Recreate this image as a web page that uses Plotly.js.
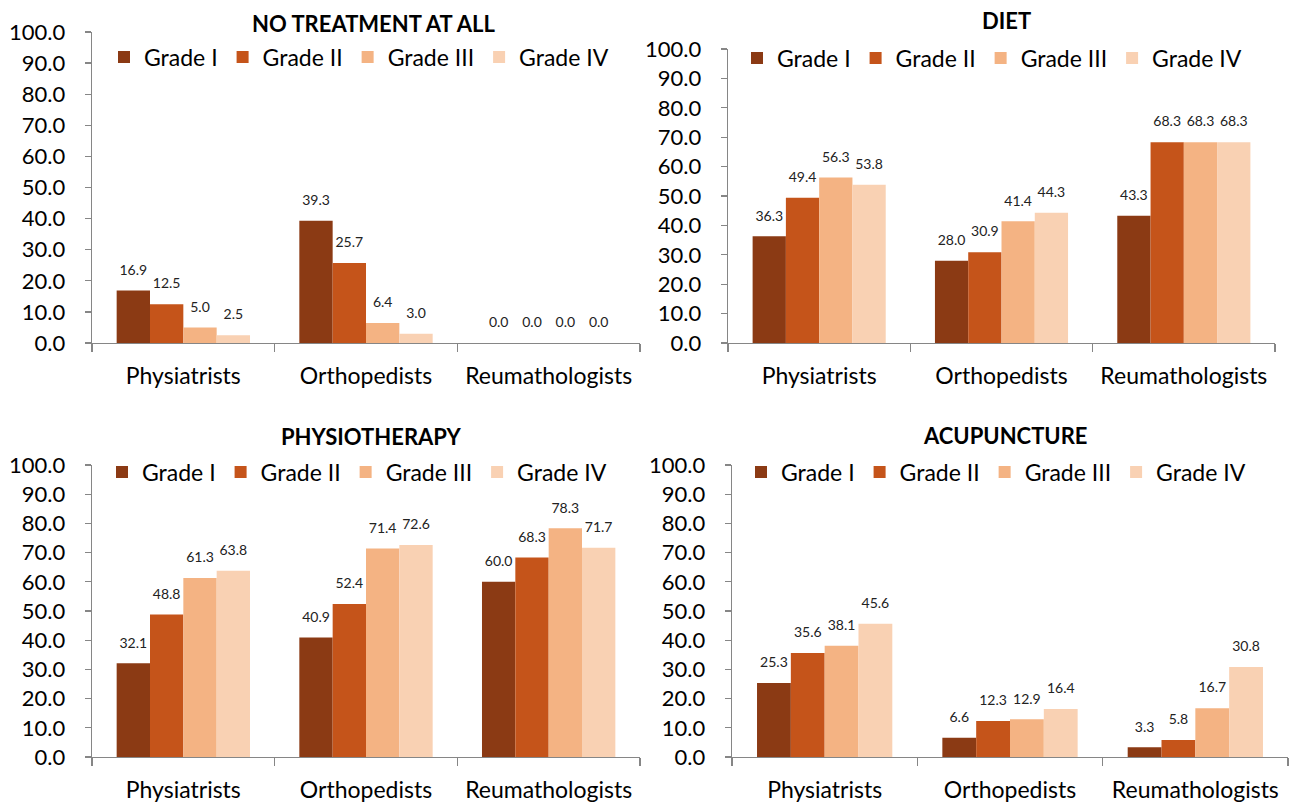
<!DOCTYPE html>
<html>
<head>
<meta charset="utf-8">
<script src="https://cdn.plot.ly/plotly-3.0.1.min.js"></script>
<style>html,body{margin:0;padding:0;background:#fff;}#chart{width:1292px;height:802px;}</style>
</head>
<body>
<div id="chart"></div>
<script>
const categories = ['Physiatrists', 'Orthopedists', 'Reumathologists'];
const grades = ['Grade I', 'Grade II', 'Grade III', 'Grade IV'];
const panelTitles = ['NO TREATMENT AT ALL', 'DIET', 'PHYSIOTHERAPY', 'ACUPUNCTURE'];
const yTickValues = [0, 10, 20, 30, 40, 50, 60, 70, 80, 90, 100];

// values by grade, in category order (Physiatrists, Orthopedists, Reumathologists)
const noTreatmentGradeI   = [16.9, 39.3, 0.0];
const noTreatmentGradeII  = [12.5, 25.7, 0.0];
const noTreatmentGradeIII = [5.0, 6.4, 0.0];
const noTreatmentGradeIV  = [2.5, 3.0, 0.0];

const dietGradeI   = [36.3, 28.0, 43.3];
const dietGradeII  = [49.4, 30.9, 68.3];
const dietGradeIII = [56.3, 41.4, 68.3];
const dietGradeIV  = [53.8, 44.3, 68.3];

const physioGradeI   = [32.1, 40.9, 60.0];
const physioGradeII  = [48.8, 52.4, 68.3];
const physioGradeIII = [61.3, 71.4, 78.3];
const physioGradeIV  = [63.8, 72.6, 71.7];

const acupGradeI   = [25.3, 6.6, 3.3];
const acupGradeII  = [35.6, 12.3, 5.8];
const acupGradeIII = [38.1, 12.9, 16.7];
const acupGradeIV  = [45.6, 16.4, 30.8];

const panels = [
  [noTreatmentGradeI, noTreatmentGradeII, noTreatmentGradeIII, noTreatmentGradeIV],
  [dietGradeI, dietGradeII, dietGradeIII, dietGradeIV],
  [physioGradeI, physioGradeII, physioGradeIII, physioGradeIV],
  [acupGradeI, acupGradeII, acupGradeIII, acupGradeIV]
];

const colors = ['#8B3A14', '#C5541A', '#F4B383', '#F9D1B3'];
const FONT = 'Lato, "Open Sans", sans-serif';
const W = 1292, H = 802;
const GAP = 0.27;

// panel plot areas in pixels: [left, right, top, bottom]
const boxes = [
  [92, 640, 32, 343],
  [728, 1275, 49, 343],
  [92, 640, 465, 757],
  [732, 1288, 465, 757]
];
const legendPos = [[104, 57], [737, 58], [102, 472], [741, 472]];
const titlePos = [[373, 23], [1006, 21], [371, 436], [1005, 435]];

const traces = [];
const labelTraces = [];
const layout = {
  width: W, height: H,
  margin: {l: 0, r: 0, t: 0, b: 0},
  paper_bgcolor: '#fff', plot_bgcolor: '#fff',
  barmode: 'group', bargap: GAP, bargroupgap: 0,
  scattermode: 'group', scattergap: GAP,
  font: {family: FONT, color: '#000'},
  showlegend: true,
  annotations: []
};

panels.forEach((series, p) => {
  const sfx = p === 0 ? '' : String(p + 1);
  const legName = 'legend' + sfx;
  series.forEach((vals, g) => {
    traces.push({
      type: 'bar',
      x: categories, y: vals,
      name: grades[g],
      xaxis: 'x' + sfx, yaxis: 'y' + sfx,
      legend: legName,
      marker: {color: colors[g], line: {width: 0}},
      hoverinfo: 'x+y+name'
    });
    // value labels, grouped like the bars
    labelTraces.push({
      type: 'scatter',
      mode: 'markers+text',
      x: categories, y: vals,
      name: grades[g],
      xaxis: 'x' + sfx, yaxis: 'y' + sfx,
      showlegend: false,
      marker: {size: 18, opacity: 0},
      text: vals.map(v => v.toFixed(1)),
      textposition: 'top center',
      textfont: {size: 14, family: FONT, color: '#222'},
      cliponaxis: false,
      hoverinfo: 'skip'
    });
  });
  const b = boxes[p];
  layout['xaxis' + sfx] = {
    domain: [b[0] / W, b[1] / W],
    anchor: 'y' + sfx,
    type: 'category',
    showline: true, linecolor: '#868686', linewidth: 1.3,
    ticks: 'outside', tickson: 'boundaries', ticklen: 8, tickcolor: '#868686', tickwidth: 1.3,
    ticklabelstandoff: 12,
    showgrid: false, zeroline: false,
    tickfont: {size: 23, family: FONT, color: '#000'},
    fixedrange: true
  };
  layout['yaxis' + sfx] = {
    domain: [1 - b[3] / H, 1 - b[2] / H],
    anchor: 'x' + sfx,
    range: [0, 100],
    tickvals: yTickValues, tickformat: '.1f',
    showline: true, linecolor: '#868686', linewidth: 1.3,
    ticks: 'outside', ticklen: 6, tickcolor: '#868686', tickwidth: 1.3,
    ticklabelstandoff: 15,
    showgrid: false, zeroline: false,
    tickfont: {size: 22, family: FONT, color: '#000'},
    fixedrange: true
  };
  layout[legName] = {
    orientation: 'h',
    x: legendPos[p][0] / W, y: 1 - legendPos[p][1] / H,
    xanchor: 'left', yanchor: 'middle',
    bgcolor: 'rgba(0,0,0,0)',
    font: {size: 23, family: FONT, color: '#000'},
    itemclick: false, itemdoubleclick: false
  };
  layout.annotations.push({
    text: '<b>' + panelTitles[p] + '</b>',
    xref: 'paper', yref: 'paper',
    x: titlePos[p][0] / W, y: 1 - titlePos[p][1] / H,
    xanchor: 'center', yanchor: 'middle',
    showarrow: false,
    font: {size: 22, family: FONT, color: '#000'}
  });
});

Plotly.newPlot('chart', traces.concat(labelTraces), layout, {displayModeBar: false, staticPlot: true});
</script>
</body>
</html>
